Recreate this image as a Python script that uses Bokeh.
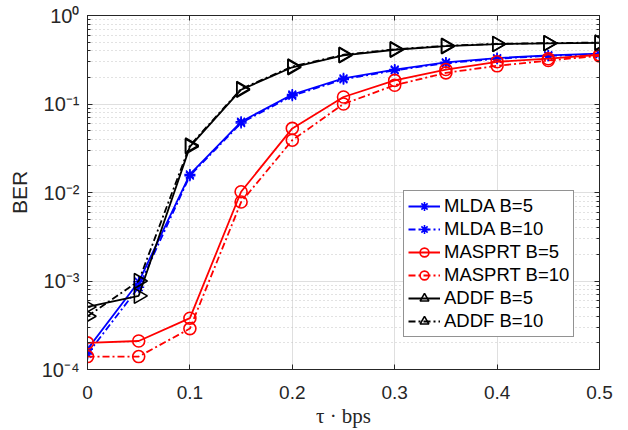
import numpy as np
from bokeh.plotting import figure
from bokeh.models import (FixedTicker, LogAxis, LinearAxis, Legend, LegendItem, Range1d)
from bokeh.embed import file_html
from bokeh.resources import INLINE

# ---- data ----
tau = [0.0, 0.05, 0.1, 0.15, 0.2, 0.25, 0.3, 0.35, 0.4, 0.45, 0.5]
mlda_b5 = [1.7e-4, 9.8e-4, 1.6e-2, 0.063, 0.128, 0.195, 0.245, 0.295, 0.33, 0.355, 0.37]
mlda_b10 = [1.5e-4, 8.5e-4, 1.55e-2, 0.061, 0.124, 0.19, 0.24, 0.29, 0.325, 0.35, 0.365]
masprt_b5 = [2.0e-4, 2.1e-4, 3.8e-4, 0.0102, 0.053, 0.12, 0.185, 0.245, 0.30, 0.325, 0.36]
masprt_b10 = [1.4e-4, 1.4e-4, 2.9e-4, 0.0078, 0.039, 0.10, 0.163, 0.225, 0.27, 0.31, 0.35]
addf_b5 = [5.1e-4, 6.8e-4, 0.033, 0.145, 0.26, 0.355, 0.41, 0.45, 0.475, 0.485, 0.49]
addf_b10 = [4.0e-4, 1.0e-3, 0.034, 0.148, 0.265, 0.36, 0.415, 0.455, 0.478, 0.488, 0.495]

x_ticks = [0, 0.1, 0.2, 0.3, 0.4, 0.5]
x_tick_labels = ["0", "0.1", "0.2", "0.3", "0.4", "0.5"]
y_exponents = [0, -1, -2, -3, -4]
y_tick_labels = ["10\u2070", "10\u207b\u00b9", "10\u207b\u00b2", "10\u207b\u00b3", "10\u207b\u2074"]

series = [
    ("MLDA B=5", mlda_b5, "#0000FF", "solid", "asterisk"),
    ("MLDA B=10", mlda_b10, "#0000FF", "7 3 2 3", "asterisk"),
    ("MASPRT B=5", masprt_b5, "#FF0000", "solid", "circle"),
    ("MASPRT B=10", masprt_b10, "#FF0000", "7 3 2 3", "circle"),
    ("ADDF B=5", addf_b5, "#000000", "solid", "triangle"),
    ("ADDF B=10", addf_b10, "#000000", "7 3 2 3", "triangle"),
]

AX = "#262626"
FONT = "Liberation Sans"

p = figure(width=628, height=430, output_backend="svg", toolbar_location=None,
           y_axis_type="log", x_range=Range1d(0, 0.5), y_range=Range1d(1e-4, 1),
           min_border_left=87, min_border_right=29, min_border_top=15, min_border_bottom=60)
p.outline_line_color = AX
p.outline_line_width = 1
p.background_fill_color = "white"
p.border_fill_color = "white"

yt_major = [10.0 ** e for e in y_exponents]
yt_minor = [k * 10.0 ** e for e in range(-4, 0) for k in range(2, 10)]

# x axis
xa = p.xaxis[0]
xa.ticker = FixedTicker(ticks=x_ticks)
xa.major_label_overrides = {t: l for t, l in zip(x_ticks, x_tick_labels)}
xa.major_label_text_font = FONT
xa.major_label_text_font_size = "19px"
xa.major_label_text_color = AX
xa.major_label_standoff = 16
xa.major_tick_in = 5
xa.major_tick_out = 0
xa.minor_tick_in = 0
xa.minor_tick_out = 0
xa.axis_line_color = AX
xa.major_tick_line_color = AX
xa.axis_label = "\u03c4 \u00b7 bps"
xa.axis_label_text_font = "Liberation Serif"
xa.axis_label_text_font_style = "normal"
xa.axis_label_text_font_size = "21px"
xa.axis_label_text_color = AX
xa.axis_label_standoff = 2

# y axis
ya = p.yaxis[0]
ya.ticker = FixedTicker(ticks=yt_major, minor_ticks=yt_minor)
ya.major_label_overrides = {t: l for t, l in zip(yt_major, y_tick_labels)}
ya.major_label_text_font = FONT
ya.major_label_text_font_size = "20px"
ya.major_label_text_color = AX
ya.major_label_standoff = 8
ya.major_tick_in = 5
ya.major_tick_out = 0
ya.minor_tick_in = 3
ya.minor_tick_out = 0
ya.axis_line_color = AX
ya.major_tick_line_color = AX
ya.minor_tick_line_color = AX
ya.axis_label = "BER"
ya.axis_label_text_font = FONT
ya.axis_label_text_font_style = "normal"
ya.axis_label_text_font_size = "21px"
ya.axis_label_text_color = AX
ya.axis_label_standoff = 8

HIDE = dict(major_label_text_font_size="1px", major_label_text_alpha=0.0, major_label_standoff=0)

# top & right axes for ticks (box on)
ra = LogAxis(ticker=FixedTicker(ticks=yt_major, minor_ticks=yt_minor),
             major_tick_in=5, major_tick_out=0, minor_tick_in=3, minor_tick_out=0,
             axis_line_color=AX, major_tick_line_color=AX, minor_tick_line_color=AX, **HIDE)
p.add_layout(ra, "right")
ta = LinearAxis(ticker=FixedTicker(ticks=x_ticks),
                major_tick_in=5, major_tick_out=0, minor_tick_in=0, minor_tick_out=0,
                axis_line_color=AX, major_tick_line_color=AX, **HIDE)
p.add_layout(ta, "above")

# grids
p.xgrid.ticker = FixedTicker(ticks=x_ticks)
p.xgrid.grid_line_color = "#dfdfdf"
p.xgrid.grid_line_width = 1
p.ygrid.ticker = FixedTicker(ticks=yt_major, minor_ticks=yt_minor)
p.ygrid.grid_line_color = "#dfdfdf"
p.ygrid.minor_grid_line_color = "#c4c4c4"
p.ygrid.minor_grid_line_dash = "1 3"
p.ygrid.minor_grid_line_width = 1

items = []
for name, vals, col, dash, mk in series:
    r1 = p.line(tau, vals, line_color=col, line_width=1.8, line_dash=dash)
    kw = {}
    if mk == "triangle":
        kw["angle"] = -np.pi / 2
    size = {"asterisk": 11, "circle": 12, "triangle": 15}[mk]
    r2 = p.scatter(tau, vals, marker=mk, size=size, line_color=col, fill_color=None,
                   line_width=1.6, **kw)
    items.append(LegendItem(label=name, renderers=[r1, r2]))

legend = Legend(items=items, location=(316, 32), margin=0, padding=4, spacing=1,
                label_height=22, glyph_height=22, glyph_width=32, label_standoff=4,
                label_text_font=FONT, label_text_font_size="18.5px", label_text_color="#000000",
                border_line_color=AX, border_line_width=1, background_fill_color="white",
                background_fill_alpha=1.0)
p.add_layout(legend, "center")

open("out.html", "w").write(file_html(p, INLINE))
